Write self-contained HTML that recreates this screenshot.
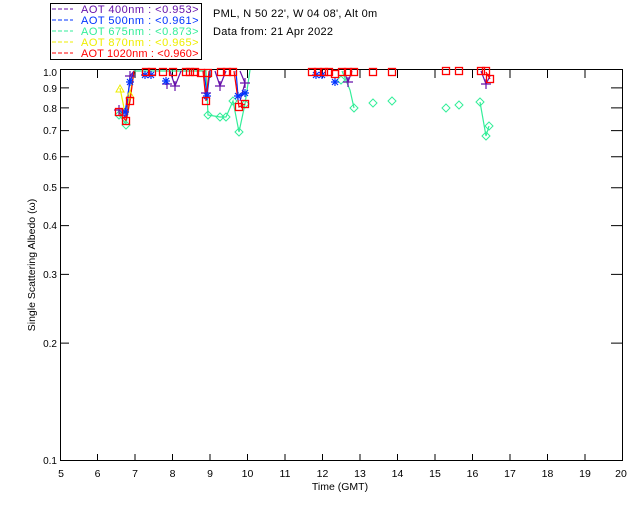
<!DOCTYPE html>
<html><head><meta charset="utf-8"><style>
body{margin:0;background:#fff;width:640px;height:512px;overflow:hidden}
svg{display:block;font-family:"Liberation Sans",sans-serif}
</style></head><body>
<svg width="640" height="512" viewBox="0 0 640 512">
<defs>
<g id="sq"><rect x="-3.5" y="-3.5" width="7" height="7" fill="none" stroke="#f00" stroke-width="1.3"/></g>
<g id="dm"><path d="M0,-4 L4,0 L0,4 L-4,0Z" fill="none" stroke="#33ee99" stroke-width="1"/></g>
<g id="pl"><path d="M-5,0H5M0,-5V5" stroke="#6611aa" stroke-width="1.2"/></g>
<g id="as"><path d="M-4,0H4M0,-4V4M-3,-3L3,3M-3,3L3,-3" stroke="#0033ff" stroke-width="1.2"/></g>
<g id="tr"><path d="M0,-4 L4,3 L-4,3Z" fill="none" stroke="#ee0" stroke-width="1"/></g>
</defs>
<!-- legend -->
<rect x="50.5" y="3.5" width="151" height="56" fill="#fff" stroke="#000"/>
<g font-size="11" letter-spacing="0.5">
<line x1="52" y1="9" x2="73" y2="9" stroke="#6611aa" stroke-dasharray="4,2"/><text x="81" y="13" fill="#6611aa" textLength="118">AOT  400nm : &lt;0.953&gt;</text>
<line x1="52" y1="20" x2="73" y2="20" stroke="#0033ff" stroke-dasharray="4,2"/><text x="81" y="24" fill="#0033ff" textLength="118">AOT  500nm : &lt;0.961&gt;</text>
<line x1="52" y1="31" x2="73" y2="31" stroke="#33ee99" stroke-dasharray="4,2"/><text x="81" y="35" fill="#33ee99" textLength="118">AOT  675nm : &lt;0.873&gt;</text>
<line x1="52" y1="42" x2="73" y2="42" stroke="#ee0" stroke-dasharray="4,2"/><text x="81" y="46" fill="#ee0" textLength="118">AOT  870nm : &lt;0.965&gt;</text>
<line x1="52" y1="53" x2="73" y2="53" stroke="#f00" stroke-dasharray="4,2"/><text x="81" y="57" fill="#f00" textLength="118">AOT 1020nm : &lt;0.960&gt;</text>
</g>
<text x="213" y="17" font-size="11" letter-spacing="0.3">PML, N 50 22', W 04 08', Alt 0m</text>
<text x="213" y="35" font-size="11" letter-spacing="0.3">Data from: 21 Apr 2022</text>
<!-- axes -->
<rect x="60.5" y="69.5" width="562" height="391" fill="none" stroke="#000"/>
<g stroke="#000">
<path d="M97.5,461v-7M135,461v-7M172.5,461v-7M210,461v-7M247.5,461v-7M285,461v-7M322.5,461v-7M360,461v-7M397.5,461v-7M435,461v-7M472.5,461v-7M510,461v-7M547.5,461v-7M585,461v-7"/>
<path d="M97.5,70v8M135,70v8M172.5,70v8M210,70v8M247.5,70v8M285,70v8M322.5,70v8M360,70v8M397.5,70v8M435,70v8M472.5,70v8M510,70v8M547.5,70v8M585,70v8"/>
<path d="M60,87.9h9M60,107.9h9M60,130.6h9M60,156.8h9M60,187.7h9M60,225.6h9M60,274.4h9M60,343.1h9M622,87.9h-11M622,107.9h-11M622,130.6h-11M622,156.8h-11M622,187.7h-11M622,225.6h-11M622,274.4h-11M622,343.1h-11"/>
</g>
<g font-size="10" text-anchor="end">
<text x="57" y="76">1.0</text><text x="57" y="92">0.9</text><text x="57" y="112">0.8</text><text x="57" y="134">0.7</text><text x="57" y="160">0.6</text><text x="57" y="191">0.5</text><text x="57" y="229">0.4</text><text x="57" y="278">0.3</text><text x="57" y="347">0.2</text><text x="57" y="464">0.1</text>
</g>
<g font-size="10.5" text-anchor="middle">
<text x="61" y="477">5</text><text x="97.5" y="477">6</text><text x="135" y="477">7</text><text x="172.5" y="477">8</text><text x="210" y="477">9</text><text x="247.5" y="477">10</text><text x="285" y="477">11</text><text x="322.5" y="477">12</text><text x="360" y="477">13</text><text x="397.5" y="477">14</text><text x="435" y="477">15</text><text x="472.5" y="477">16</text><text x="510" y="477">17</text><text x="547.5" y="477">18</text><text x="585" y="477">19</text><text x="621" y="477">20</text>
<text x="340" y="490">Time (GMT)</text>
</g>
<text transform="translate(35,265) rotate(-90)" font-size="10.5" text-anchor="middle">Single Scattering Albedo (ω)</text>
<!-- series lines -->
<g fill="none" stroke-width="1.2">
<polyline stroke="#33ee99" points="119,115 126,124 130,100 134,71 206,71 208,115 220,117 226,117 233,101 239,132 245,104 250,70"/>
<polyline stroke="#33ee99" points="342,71 350,90 354,108"/>
<polyline stroke="#33ee99" points="480,102 486,136 489,126"/>
<polyline stroke="#ee0" points="120,88 126,118 130,95 134,71"/>
<polyline stroke="#6611aa" points="119,110 126,118 130,76 134,71"/>
<polyline stroke="#6611aa" points="170,71 175,86 181,71"/>
<polyline stroke="#6611aa" points="215,71 220,86 226,71"/>
<polyline stroke="#6611aa" points="240,71 245,83 240,101"/>
<polyline stroke="#6611aa" points="344,71 348,82 352,71"/>
<polyline stroke="#6611aa" points="481,71 486,84 490,76"/>
<polyline stroke="#0033ff" points="119,112 125,112 130,82 134,71"/>
<polyline stroke="#0033ff" points="204,71 207,96 210,71"/>
<polyline stroke="#0033ff" points="236,71 238,96 245,93"/>
<polyline stroke="#f00" points="119,112 126,121 130,101 134,71"/>
<polyline stroke="#f00" points="203,71 206,101 209,71"/>
<polyline stroke="#f00" points="234,71 239,107 245,104"/>
<polyline stroke="#f00" points="486,72 490,79"/>
</g>
<!-- markers -->
<g>
<use href="#dm" x="119" y="115"/><use href="#dm" x="126" y="125"/><use href="#dm" x="208" y="115"/><use href="#dm" x="220" y="117"/><use href="#dm" x="226" y="117"/><use href="#dm" x="233" y="101"/><use href="#dm" x="239" y="132"/><use href="#dm" x="245" y="104"/><use href="#dm" x="354" y="108"/><use href="#dm" x="373" y="103"/><use href="#dm" x="392" y="101"/><use href="#dm" x="446" y="108"/><use href="#dm" x="459" y="105"/><use href="#dm" x="480" y="102"/><use href="#dm" x="486" y="136"/><use href="#dm" x="489" y="126"/><use href="#dm" x="341" y="80"/>
<use href="#tr" x="120" y="89"/><use href="#tr" x="130" y="95"/>
<use href="#pl" x="130" y="76"/><use href="#pl" x="119" y="110"/><use href="#pl" x="167" y="84"/><use href="#pl" x="175" y="86"/><use href="#pl" x="220" y="86"/><use href="#pl" x="245" y="83"/><use href="#pl" x="348" y="82"/><use href="#pl" x="486" y="84"/><use href="#pl" x="206" y="93"/>
<use href="#as" x="130" y="82"/><use href="#as" x="125" y="112"/><use href="#as" x="166" y="81"/><use href="#as" x="207" y="96"/><use href="#as" x="238" y="96"/><use href="#as" x="245" y="93"/><use href="#as" x="335" y="82"/><use href="#as" x="145" y="75"/><use href="#as" x="151" y="75"/><use href="#as" x="316" y="75"/><use href="#as" x="322" y="75"/>
<use href="#sq" x="119" y="112"/><use href="#sq" x="126" y="121"/><use href="#sq" x="130" y="101"/>
<use href="#sq" x="146" y="72"/><use href="#sq" x="152" y="72"/><use href="#sq" x="163" y="72"/><use href="#sq" x="173" y="72"/><use href="#sq" x="186" y="72"/><use href="#sq" x="190" y="72"/><use href="#sq" x="195" y="72"/><use href="#sq" x="201" y="73"/><use href="#sq" x="206" y="101"/><use href="#sq" x="208" y="73"/><use href="#sq" x="221" y="72"/><use href="#sq" x="227" y="72"/><use href="#sq" x="233" y="72"/><use href="#sq" x="239" y="107"/><use href="#sq" x="245" y="104"/>
<use href="#sq" x="312" y="72"/><use href="#sq" x="318" y="72"/><use href="#sq" x="324" y="72"/><use href="#sq" x="329" y="72"/><use href="#sq" x="335" y="74"/><use href="#sq" x="342" y="72"/><use href="#sq" x="348" y="72"/><use href="#sq" x="354" y="72"/><use href="#sq" x="373" y="72"/><use href="#sq" x="392" y="72"/>
<use href="#sq" x="446" y="71"/><use href="#sq" x="459" y="71"/><use href="#sq" x="481" y="71"/><use href="#sq" x="486" y="71"/><use href="#sq" x="490" y="79"/>
</g>
</svg>
</body></html>
